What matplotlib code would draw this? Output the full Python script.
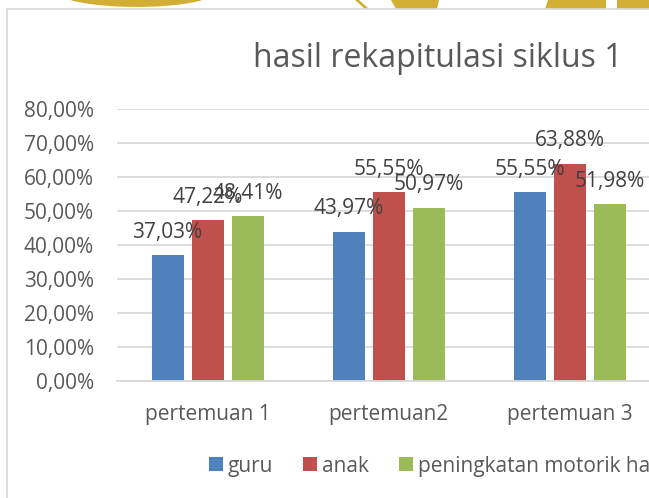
import numpy as np
import matplotlib
matplotlib.use("Agg")
import matplotlib.pyplot as plt
from matplotlib.patches import Polygon, Ellipse, Rectangle

plt.rcParams['font.family'] = ['Open Sans', 'DejaVu Sans']

# ---- data ----
categories = ["pertemuan 1", "pertemuan2", "pertemuan 3"]
series_names = ["guru", "anak", "peningkatan motorik halus"]
guru = [37.03, 43.97, 55.55]
anak = [47.22, 55.55, 63.88]
motorik = [48.41, 50.97, 51.98]
yticks = [0, 10, 20, 30, 40, 50, 60, 70, 80]
ytick_labels = ["0,00%", "10,00%", "20,00%", "30,00%", "40,00%",
                "50,00%", "60,00%", "70,00%", "80,00%"]
title = "hasil rekapitulasi siklus 1"

colors = ["#4F81BD", "#C0504D", "#9BBB59"]
W, H = 649, 498

fig = plt.figure(figsize=(W / 100, H / 100), dpi=100)
fig.patch.set_facecolor("white")

def px(x, y_from_top):
    return (x / W, 1 - y_from_top / H)

# decorative gold watermark strip at top
gold = "#D3AE35"
fig.patches.append(Ellipse(px(136.5, -8.8), 160 / W, 31.5 / H, transform=fig.transFigure,
                           facecolor=gold, edgecolor="none", zorder=-2))
for poly in [
    [(355, 0), (359, 0), (369, 9), (365, 9)],
    [(391, 0), (439, 0), (437, 9), (396, 9)],
    [(548, 0), (606, 0), (606, 9), (545, 9)],
    [(617, 0), (649, 0), (649, 9), (617, 9)],
]:
    fig.patches.append(Polygon([px(a, b) for a, b in poly], closed=True,
                               transform=fig.transFigure, facecolor=gold,
                               edgecolor="none", zorder=-2))

# chart frame
frame = Rectangle(px(6.5, 598), 700 / W, (598 - 9.5) / H, transform=fig.transFigure,
                  facecolor="white", edgecolor="#D9D9D9", lw=1.2, zorder=-1)
fig.patches.append(frame)

ax = fig.add_axes([117 / W, 117 / H, 543 / W, 272 / H])
ax.set_facecolor("none")
ax.set_zorder(2)

x = np.arange(len(categories))
step = 40 / 181
bw = 32 / 181
all_series = [guru, anak, motorik]
for i, (vals, c, name) in enumerate(zip(all_series, colors, series_names)):
    pos = x + (i - 1) * step
    ax.bar(pos, vals, width=bw, color=c, label=name, zorder=2)
    for p, v in zip(pos, vals):
        ax.annotate(f"{v:.2f}%".replace(".", ","), (p, v), xytext=(0, 17.5),
                    textcoords="offset pixels", ha="center", va="baseline",
                    fontsize=15, color="#404040", zorder=3)

ax.set_xlim(-0.5, len(categories) - 0.5)
ax.set_ylim(0, 80)
ax.set_yticks(yticks)
ax.set_yticklabels(ytick_labels)
ax.set_xticks(x)
ax.set_xticklabels(categories)
ax.tick_params(axis="y", length=0, pad=16.5, labelsize=15, labelcolor="#595959")
ax.tick_params(axis="x", length=0, pad=16.5, labelsize=15, labelcolor="#595959")
ax.yaxis.grid(True, color="#D9D9D9", lw=1.3)
ax.set_axisbelow(True)
for s in ["top", "right", "left"]:
    ax.spines[s].set_visible(False)
ax.spines["bottom"].set_color("#D9D9D9")
ax.spines["bottom"].set_linewidth(1.3)

fig.text(438 / W, 1 - 67 / H, title, ha="center", va="baseline",
         fontsize=23, color="#595959")

handles = [Rectangle((0, 0), 1, 1, facecolor=c, edgecolor="none") for c in colors]
fs = 15
empx = fs * 100 / 72
fig.legend(handles, series_names, loc="center left",
           bbox_to_anchor=px(209, 466), ncol=3, frameon=False, fontsize=fs,
           labelcolor="#595959", handlelength=14 / empx, handleheight=14 / empx,
           handletextpad=5 / empx, columnspacing=30 / empx, borderpad=0,
           borderaxespad=0)

fig.savefig("out.png", dpi=100)
